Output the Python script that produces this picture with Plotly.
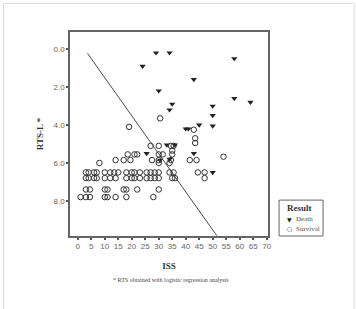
import plotly.graph_objects as go

# Death cases (ISS, RTS-L)
death_iss = [29, 34, 24, 58, 43, 30, 58, 64, 35, 34, 50, 50, 50, 45, 40, 41, 25.5, 33, 36, 34, 30.5, 43, 50]
death_rts = [0.2, 0.2, 0.9, 0.5, 1.6, 2.2, 2.6, 2.8, 2.9, 3.2, 3.0, 3.5, 4.05, 4.0, 4.2, 4.2, 5.5, 5.05, 5.05, 5.8, 5.85, 5.5, 6.5]

# Survival cases (ISS, RTS-L)
surv_iss = (
    [3, 4, 6, 7, 10, 12, 13.5, 15, 18, 20, 21, 23, 25.5, 27, 28.5, 30, 34, 35.5, 44.5, 47]
    + [3, 4, 6, 7, 10, 12, 14, 18, 20, 21, 23, 25.5, 27, 28.5, 30, 35, 36, 47]
    + [3, 4.5, 10, 11, 17, 18, 22, 30]
    + [1, 3, 4.5, 10, 11, 14, 18, 28]
    + [8, 30, 34]
    + [14, 17, 19.5, 27.5, 30, 34.5, 41.5, 44]
    + [18.5, 21, 22, 30, 31.5, 35]
    + [27, 30, 34.5, 35.5, 35]
    + [30.5, 19, 43, 43.5, 43.5, 54]
)
surv_rts = (
    [6.5] * 20
    + [6.8] * 18
    + [7.4] * 8
    + [7.8] * 8
    + [6.0] * 3
    + [5.85] * 8
    + [5.55] * 6
    + [5.1, 5.1, 5.1, 5.1, 5.35]
    + [3.65, 4.1, 4.25, 4.7, 4.95, 5.67]
)

# Discriminant line
line_iss = [3.6, 51.5]
line_rts = [0.23, 9.83]

x_ticks = list(range(0, 71, 5))
y_ticks = [0, 2, 4, 6, 8]

legend_title = "Result"
legend_labels = ["Death", "Survival"]
legend_symbols = ["▼", "○"]

fig = go.Figure()
fig.add_trace(go.Scatter(x=line_iss, y=line_rts, mode="lines",
                         line=dict(color="#4a4a4a", width=1), showlegend=False, hoverinfo="skip"))
fig.add_trace(go.Scatter(x=death_iss, y=death_rts, mode="markers", name=legend_labels[0],
                         marker=dict(symbol="triangle-down", size=5.5, color="#222")))
fig.add_trace(go.Scatter(x=surv_iss, y=surv_rts, mode="markers", name=legend_labels[1],
                         marker=dict(symbol="circle-open", size=5.5, color="#333", line=dict(width=1))))

axis_common = dict(showline=True, mirror=True, linecolor="#666", linewidth=1.5,
                   ticks="outside", ticklen=2, tickwidth=2, tickcolor="#555",
                   showgrid=False, zeroline=False,
                   tickfont=dict(family="Liberation Sans, Arial", size=8, color="#666"))

annotations = [dict(text="* RTS obtained with logistic regression analysis",
                    xref="paper", yref="paper", x=0.51, y=-0.215, xanchor="center", yanchor="middle",
                    showarrow=False, font=dict(family="Liberation Serif", size=6, color="#444")),
               dict(text="<b>" + legend_title + "</b>", xref="paper", yref="paper",
                    x=1.088, y=0.137, xanchor="left", yanchor="middle", showarrow=False,
                    font=dict(family="Liberation Serif", size=9, color="#333"))]
rows_y = [0.083, 0.036]
for sym, lab, yy in zip(legend_symbols, legend_labels, rows_y):
    annotations.append(dict(text=sym, xref="paper", yref="paper", x=1.111, y=yy,
                            xanchor="center", yanchor="middle", showarrow=False,
                            font=dict(family="DejaVu Sans", size=6, color="#222")))
    annotations.append(dict(text=lab, xref="paper", yref="paper", x=1.13, y=yy,
                            xanchor="left", yanchor="middle", showarrow=False,
                            font=dict(family="Liberation Serif", size=7, color="#555")))

fig.update_layout(
    width=356, height=309,
    margin=dict(l=70, r=88, t=32, b=73),
    paper_bgcolor="white", plot_bgcolor="white",
    showlegend=False,
    xaxis=dict(range=[-2.9, 70.5], tickvals=x_ticks,
               title=dict(text="<b>ISS</b>", font=dict(family="Liberation Serif", size=9, color="#333"), standoff=12),
               **axis_common),
    yaxis=dict(range=[9.85, -0.9], tickvals=y_ticks, tickformat=".1f",
               title=dict(text="<b>RTS-L *</b>", font=dict(family="Liberation Serif", size=9, color="#333"), standoff=8),
               **axis_common),
    annotations=annotations,
    shapes=[dict(type="rect", xref="paper", yref="paper",
                 x0=-0.335, x1=1.435, y0=-0.45, y1=1.14,
                 line=dict(color="#ddd", width=1)),
            dict(type="rect", xref="paper", yref="paper",
                 x0=1.056, x1=1.278, y0=0.0, y1=0.176,
                 line=dict(color="#666", width=1), fillcolor="white")],
)

fig.write_html("out.html")
